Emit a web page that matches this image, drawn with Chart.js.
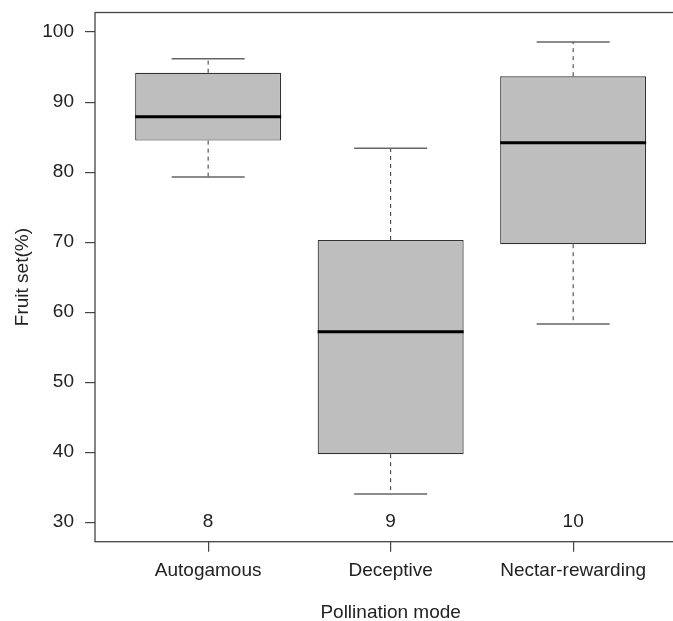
<!DOCTYPE html>
<html>
<head>
<meta charset="utf-8">
<script src="https://cdn.jsdelivr.net/npm/chart.js@4/dist/chart.umd.min.js"></script>
<style>
  html, body { margin: 0; padding: 0; background: #fff; overflow: hidden; }
  #wrap { width: 700px; height: 621px; }
</style>
</head>
<body>
<div id="wrap"><canvas id="myChart" width="700" height="621"></canvas></div>
<script>
// カテゴリ
const categories = ['Autogamous', 'Deceptive', 'Nectar-rewarding'];
// 箱ひげ図の値
const whiskerLow = [79.3, 34.0, 58.3];
const q1 = [84.5, 39.7, 69.7];
const median = [87.9, 57.2, 84.2];
const q3 = [94.2, 70.3, 93.7];
const whiskerHigh = [96.2, 83.4, 98.6];
// サンプル数
const counts = ['8', '9', '10'];
// Y軸の目盛り
const yTicks = [30, 40, 50, 60, 70, 80, 90, 100];

const FONT = 'Liberation Sans, Arial, Helvetica, sans-serif';
const LINE = '#444';

// ひげ・中央値・枠線・サンプル数を描くプラグイン
const boxPlugin = {
  id: 'boxPlugin',
  afterDatasetsDraw(chart) {
    const ctx = chart.ctx;
    const xs = chart.scales.x;
    const ys = chart.scales.y;
    const meta = chart.getDatasetMeta(0);
    ctx.save();
    categories.forEach(function(c, i) {
      const bar = meta.data[i];
      const cx = xs.getPixelForValue(i + 1);
      const half = bar.width / 2;
      // ひげ（破線）
      ctx.strokeStyle = '#333';
      ctx.lineWidth = 1;
      ctx.setLineDash([4, 4]);
      ctx.beginPath();
      ctx.moveTo(cx, ys.getPixelForValue(q3[i]));
      ctx.lineTo(cx, ys.getPixelForValue(whiskerHigh[i]));
      ctx.moveTo(cx, ys.getPixelForValue(q1[i]));
      ctx.lineTo(cx, ys.getPixelForValue(whiskerLow[i]));
      ctx.stroke();
      ctx.setLineDash([]);
      // ひげの端
      ctx.strokeStyle = '#666';
      ctx.lineWidth = 1.5;
      ctx.beginPath();
      ctx.moveTo(cx - half / 2, ys.getPixelForValue(whiskerHigh[i]));
      ctx.lineTo(cx + half / 2, ys.getPixelForValue(whiskerHigh[i]));
      ctx.moveTo(cx - half / 2, ys.getPixelForValue(whiskerLow[i]));
      ctx.lineTo(cx + half / 2, ys.getPixelForValue(whiskerLow[i]));
      ctx.stroke();
      // 中央値
      ctx.strokeStyle = '#000';
      ctx.lineWidth = 3;
      ctx.beginPath();
      ctx.moveTo(cx - half, ys.getPixelForValue(median[i]));
      ctx.lineTo(cx + half, ys.getPixelForValue(median[i]));
      ctx.stroke();
      // サンプル数
      ctx.fillStyle = '#222';
      ctx.font = '19px ' + FONT;
      ctx.textAlign = 'center';
      ctx.textBaseline = 'middle';
      ctx.fillText(counts[i], cx, ys.getPixelForValue(30));
    });
    // 枠線
    const a = chart.chartArea;
    ctx.strokeStyle = LINE;
    ctx.lineWidth = 1.3;
    ctx.strokeRect(a.left, a.top, a.right - a.left, a.bottom - a.top);
    ctx.restore();
  }
};

const ctx = document.getElementById('myChart').getContext('2d');
const chart = new Chart(ctx, {
  type: 'bar',
  data: {
    datasets: [
      {
        data: categories.map(function(c, i) { return { x: i + 1, y: [q1[i], q3[i]] }; }),
        backgroundColor: '#bebebe',
        borderColor: '#333',
        borderWidth: 1.2,
        borderSkipped: false,
        categoryPercentage: 0.8,
        barPercentage: 1,
      },
    ],
  },
  options: {
    responsive: false,
    animation: false,
    layout: { padding: { left: 0, top: 12.5, right: 13.7, bottom: 0 } },
    plugins: { legend: { display: false }, tooltip: { enabled: false } },
    scales: {
      x: {
        type: 'linear',
        min: 0.38,
        max: 3.62,
        offset: false,
        afterFit: function(s) { s.height = 79.3; s.paddingLeft = 0; s.paddingRight = 0; },
        afterBuildTicks: function(s) {
          s.ticks = categories.map(function(c, i) { return { value: i + 1 }; });
        },
        ticks: {
          autoSkip: false,
          maxRotation: 0,
          color: '#222',
          font: { family: FONT, size: 19 },
          padding: 8,
          callback: function(v) { return categories[v - 1]; },
        },
        grid: { offset: false, drawOnChartArea: false, tickLength: 10, color: LINE, lineWidth: 1.2 },
        border: { display: false },
        title: {
          display: true,
          text: 'Pollination mode',
          color: '#222',
          font: { family: FONT, size: 19 },
          padding: { top: 0, bottom: -3 },
        },
      },
      y: {
        min: 27.2,
        max: 102.8,
        afterFit: function(s) { s.width = 95; s.paddingTop = 0; s.paddingBottom = 0; },
        afterBuildTicks: function(s) {
          s.ticks = yTicks.map(function(v) { return { value: v }; });
        },
        ticks: {
          color: '#222',
          font: { family: FONT, size: 19 },
          padding: 11,
        },
        grid: { drawOnChartArea: false, tickLength: 10, color: LINE, lineWidth: 1.2 },
        border: { display: false },
        title: {
          display: true,
          text: 'Fruit set(%)',
          color: '#222',
          font: { family: FONT, size: 19 },
          padding: { top: 11, bottom: 0 },
        },
      },
    },
  },
  plugins: [boxPlugin],
});
</script>
</body>
</html>
